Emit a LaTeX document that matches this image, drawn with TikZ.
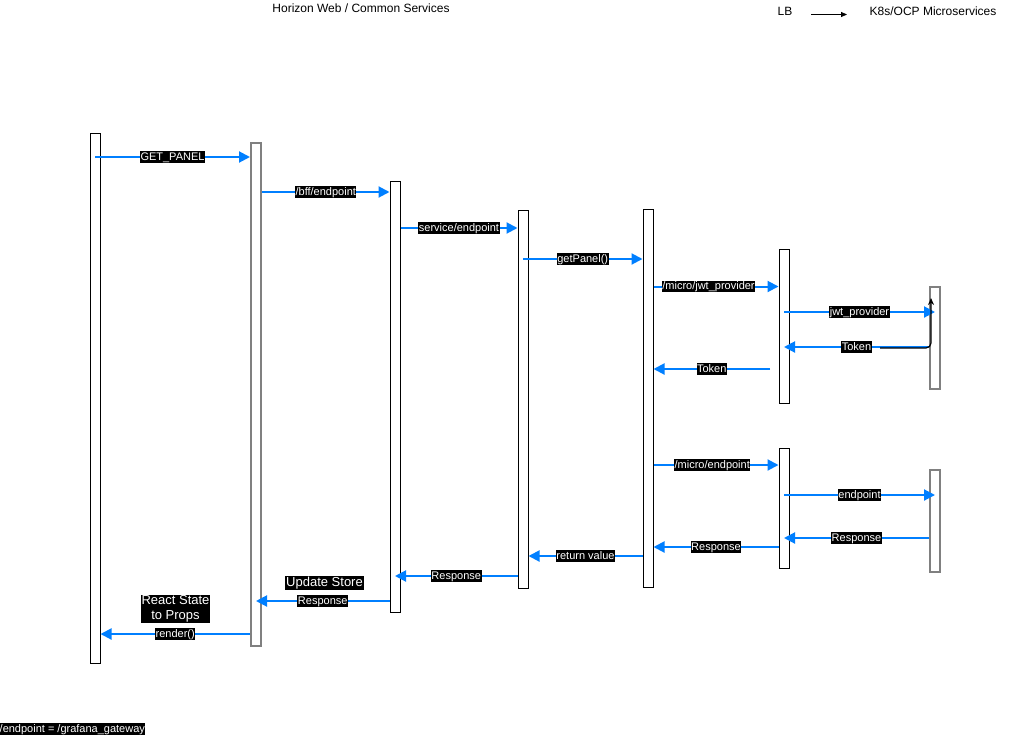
\documentclass[tikz,border=0pt]{standalone}
\usepackage{fontspec}
\setmainfont{Liberation Sans}
\usetikzlibrary{arrows.meta,calc}
\definecolor{msgblue}{RGB}{0,127,255}
\definecolor{lifegray}{RGB}{128,128,128}
\begin{document}
\begin{tikzpicture}[x=1pt,y=-1pt,
 life/.style={draw=black, fill=white, line width=1pt, minimum width=10pt, inner sep=0pt, anchor=north},
 lifeg/.style={life, draw=lifegray, line width=2pt},
 msg/.style={draw=msgblue, line width=2pt, -{Triangle[length=11pt,width=11pt]}},
 lbl/.style={fill=black, text=white, font=\fontsize{11}{11}\selectfont, inner xsep=0.5pt, inner ysep=0.5pt, text height=8.5pt, text depth=2.2pt},
 big/.style={fill=black, text=white, font=\fontsize{13}{15}\selectfont, inner xsep=1pt, inner ysep=1pt, align=center},
 txt/.style={font=\fontsize{12}{12}\selectfont, inner sep=0pt}]
\useasboundingbox[fill=white] (0,0) rectangle (1024,736);

% lifelines / activation boxes
\node[life,  minimum height=530pt] (L1) at (95,133) {};
\node[lifeg, minimum height=503pt] (L2) at (256,142) {};
\node[life,  minimum height=431pt] (L3) at (395,181) {};
\node[life,  minimum height=378pt] (L4) at (523,210) {};
\node[life,  minimum height=378pt] (L5) at (648,209) {};
\node[life,  minimum height=154pt] (L6) at (784,249) {};
\node[lifeg, minimum height=102pt] (L7) at (935,286) {};
\node[life,  minimum height=120pt] (L8) at (784,448) {};
\node[lifeg, minimum height=102pt] (L9) at (935,469) {};

% header and legend
\node[txt] (hdr) at (361,8) {Horizon Web / Common Services};
\node[txt] (lb) at (785,11) {LB};
\node[txt] (k8s) at (933,11) {K8s/OCP Microservices};
\coordinate (lbA) at (811,14.5);
\coordinate (lbB) at (847,14.5);
\draw[line width=0.8pt, -{Triangle[length=6pt,width=5pt]}] (lbA) -- (lbB);

% messages
\draw[msg] (L1.center |- 0,157) -- node[lbl]{GET\_PANEL} (L2.west |- 0,157);
\draw[msg] (L2.east |- 0,192) -- node[lbl]{/bff/endpoint} (L3.west |- 0,192);
\draw[msg] (L3.east |- 0,228) -- node[lbl]{service/endpoint} (L4.west |- 0,228);
\draw[msg] (L4.center |- 0,259) -- node[lbl]{getPanel()} (L5.west |- 0,259);
\draw[msg] (L5.east |- 0,286.5) -- node[lbl,pos=0.44]{/micro/jwt\_provider} (L6.west |- 0,286.5);
\draw[msg] (L6.center |- 0,312) -- node[lbl]{jwt\_provider} (L7.center |- 0,312);
\draw[msg] (L7.west |- 0,347) -- node[lbl]{Token} (L6.center |- 0,347);
\coordinate (tk) at (880,348);
\coordinate (tkEnd) at (931,298);
\draw[black, line width=1.2pt, rounded corners=5pt, -{Stealth[length=7pt,width=6pt]}] (tk) -| (tkEnd);
\coordinate (tokStart) at (770,369);
\draw[msg] (tokStart) -- node[lbl]{Token} (L5.east |- tokStart);
\draw[msg] (L5.east |- 0,465) -- node[lbl,pos=0.47]{/micro/endpoint} (L8.west |- 0,465);
\draw[msg] (L8.center |- 0,495) -- node[lbl]{endpoint} (L9.center |- 0,495);
\draw[msg] (L9.west |- 0,538) -- node[lbl]{Response} (L8.center |- 0,538);
\draw[msg] (L8.west |- 0,547) -- node[lbl]{Response} (L5.east |- 0,547);
\draw[msg] (L5.west |- 0,556) -- node[lbl]{return value} (L4.east |- 0,556);
\draw[msg] (L4.west |- 0,576) -- node[lbl]{Response} (L3.center |- 0,576);
\draw[msg] (L3.west |- 0,601) -- node[lbl]{Response} (L2.center |- 0,601);
\draw[msg] (L2.west |- 0,634) -- node[lbl]{render()} (L1.east |- 0,634);

% free labels
\node[big] (upd) at (324.5,583) {Update Store};
\node[big] (rsp) at (175.5,609) {React State\\to Props};
\node[lbl, anchor=west] (note) at (-1,729) {/endpoint = /grafana\_gateway};
\end{tikzpicture}
\end{document}
